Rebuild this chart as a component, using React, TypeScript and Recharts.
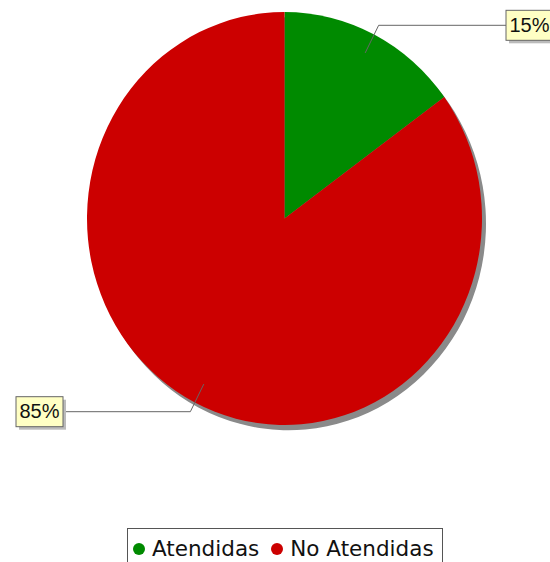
import { PieChart, Pie, Cell, Legend } from "recharts";

const categories = ["Atendidas", "No Atendidas"];
const values = [15, 85];
const colors = ["#008a00", "#cc0000"];

const data = categories.map((name, i) => ({ name, value: values[i] }));

// the reference pie is a bit taller than it is wide
const CX = 284.5;
const CY = 218.5;
const R = 197.5;
const STRETCH = 206.5 / 197.5;
const RAD = Math.PI / 180;

const renderLabel = (props: any) => {
  const { cx, cy, midAngle, outerRadius, percent } = props;
  const cos = Math.cos(-midAngle * RAD);
  const sin = Math.sin(-midAngle * RAD);
  const x1 = cx + outerRadius * 0.9 * cos;
  const y1 = cy + outerRadius * 0.9 * sin * STRETCH;
  const x2 = cx + outerRadius * 1.05 * cos;
  const y2 = cy + outerRadius * 1.05 * sin * STRETCH;
  const right = cos >= 0;
  const boxW = 47;
  const boxH = 30;
  const boxX = right ? cx + outerRadius + 24 : cx - outerRadius - 24 - boxW;
  const lineEnd = right ? boxX : boxX + boxW;
  return (
    <g>
      <polyline
        points={`${x1},${y1} ${x2},${y2} ${lineEnd},${y2}`}
        fill="none"
        stroke="#666"
        strokeWidth={1}
      />
      <rect x={boxX + 3} y={y2 - boxH / 2 + 3} width={boxW} height={boxH} fill="#bbb" />
      <rect
        x={boxX}
        y={y2 - boxH / 2}
        width={boxW}
        height={boxH}
        fill="#ffffc4"
        stroke="#666"
        strokeWidth={1}
      />
      <text
        x={boxX + boxW / 2}
        y={y2 + 1}
        textAnchor="middle"
        dominantBaseline="middle"
        fontFamily="Liberation Sans"
        fontSize={20}
        fill="#111"
      >
        {`${Math.round(percent * 100)}%`}
      </text>
    </g>
  );
};

const renderLegend = () => (
  <div
    style={{
      display: "flex",
      alignItems: "center",
      border: "1px solid #555",
      background: "#fff",
      padding: "7px 8px 10px 5px",
      fontFamily: "DejaVu Sans",
      fontSize: 21.5,
      color: "#111",
      whiteSpace: "nowrap",
    }}
  >
    {categories.map((name, i) => (
      <span key={name} style={{ display: "flex", alignItems: "center", marginRight: i === 0 ? 12 : 0 }}>
        <span
          style={{
            display: "inline-block",
            width: 12,
            height: 12,
            borderRadius: 6,
            background: colors[i],
            marginRight: 7,
          }}
        />
        {name}
      </span>
    ))}
  </div>
);

export default function App() {
  return (
    <div style={{ width: 550, height: 562, overflow: "hidden", position: "relative" }}>
      <style>{`
        html, body { margin: 0; overflow: hidden; }
        .recharts-sector { transform: scaleY(${STRETCH}); transform-origin: ${CX}px ${CY}px; }
      `}</style>
      <PieChart width={550} height={562} margin={{ top: 0, right: 0, bottom: 0, left: 0 }}>
        <Pie
          data={data}
          dataKey="value"
          cx={CX + 4}
          cy={CY + 5}
          outerRadius={R}
          startAngle={90}
          endAngle={-270}
          fill="#8a8a8a"
          stroke="none"
          label={false}
          labelLine={false}
          isAnimationActive={false}
        >
          {data.map((d) => (
            <Cell key={d.name} fill="#8a8a8a" />
          ))}
        </Pie>
        <Pie
          data={data}
          dataKey="value"
          cx={CX}
          cy={CY}
          outerRadius={R}
          startAngle={90}
          endAngle={-270}
          stroke="none"
          label={renderLabel}
          labelLine={false}
          isAnimationActive={false}
        >
          {data.map((d, i) => (
            <Cell key={d.name} fill={colors[i]} />
          ))}
        </Pie>
        <Legend
          content={renderLegend}
          wrapperStyle={{ position: "absolute", left: 127, top: 528, width: "auto", bottom: "auto" }}
        />
      </PieChart>
    </div>
  );
}
